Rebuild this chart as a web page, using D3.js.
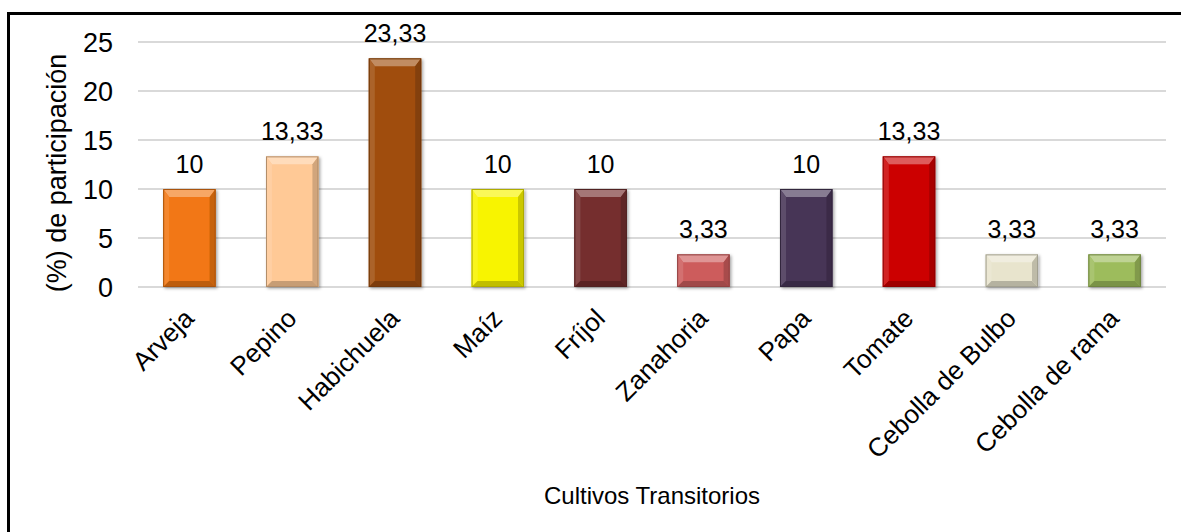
<!DOCTYPE html>
<html>
<head>
<meta charset="utf-8">
<script src="https://cdn.jsdelivr.net/npm/d3@7"></script>
<style>
  html, body { margin: 0; padding: 0; background: #fff; }
  svg { display: block; font-family: "Liberation Sans", Arial, sans-serif; }
</style>
</head>
<body>
<svg id="chart" width="1181" height="532"></svg>
<script>
// Cultivos transitorios: participación porcentual
const categories = ["Arveja", "Pepino", "Habichuela", "Maíz", "Fríjol", "Zanahoria", "Papa", "Tomate", "Cebolla de Bulbo", "Cebolla de rama"];
const values = [10, 13.33, 23.33, 10, 10, 3.33, 10, 13.33, 3.33, 3.33];
const barColors = ["#F27712", "#FFC996", "#A04E0E", "#F8F400", "#742E2E", "#CD5C5C", "#473657", "#CC0404", "#E8E4CD", "#9DBC5B"];
const yTicks = [0, 5, 10, 15, 20, 25];

const fmt = v => String(v).replace(".", ",");

const svg = d3.select("#chart");
const W = 1181, H = 532;
const margin = { left: 138, right: 15, top: 42, bottom: 245 };

const x = d3.scaleBand().domain(categories).range([margin.left, W - margin.right]).paddingInner(0.49).paddingOuter(0.245);
const y = d3.scaleLinear().domain([0, 25]).range([H - margin.bottom, margin.top]);

// drop shadow for the bars
const defs = svg.append("defs");
const f = defs.append("filter").attr("id", "shadow").attr("x", "-20%").attr("y", "-20%").attr("width", "140%").attr("height", "140%");
f.append("feDropShadow").attr("dx", 1.5).attr("dy", 1.5).attr("stdDeviation", 1.5).attr("flood-color", "#000").attr("flood-opacity", 0.35);

// outer frame
svg.append("rect").attr("x", 8.5).attr("y", 13.5).attr("width", W + 20).attr("height", H + 20)
  .attr("fill", "none").attr("stroke", "#000").attr("stroke-width", 3);

// gridlines
svg.append("g").selectAll("line").data(yTicks).join("line")
  .attr("x1", margin.left).attr("x2", W - margin.right)
  .attr("y1", d => y(d)).attr("y2", d => y(d))
  .attr("stroke", "#d9d9d9").attr("stroke-width", 2);

// y axis labels
const yAxis = svg.append("g").attr("transform", `translate(${margin.left - 25},0)`)
  .call(d3.axisLeft(y).tickValues(yTicks).tickSize(0).tickPadding(0));
yAxis.select(".domain").remove();
yAxis.selectAll("text").attr("font-size", 27).attr("fill", "#000")
  .attr("font-family", "'Liberation Sans', Arial, sans-serif").attr("dy", "0.36em");

// y axis title
svg.append("text").attr("transform", "translate(66,173) rotate(-90)")
  .attr("text-anchor", "middle").attr("font-size", 27).attr("fill", "#000")
  .text("(%) de participación");

// bars with bevelled faces
const bars = svg.append("g").selectAll("g").data(categories).join("g")
  .attr("filter", "url(#shadow)");

bars.each(function (c, i) {
  const g = d3.select(this);
  const x0 = x(c), w = x.bandwidth();
  const y0 = y(values[i]), y1 = y(0);
  const h = y1 - y0;
  const b = Math.min(6, h / 2.2);      // bevel depth
  const base = d3.color(barColors[i]);
  const x1 = x0 + w;
  // main face
  g.append("rect").attr("x", x0).attr("y", y0).attr("width", w).attr("height", h).attr("fill", base);
  // top bevel (light)
  g.append("polygon").attr("points", [[x0, y0], [x1, y0], [x1 - b, y0 + b + 2], [x0 + b, y0 + b + 2]].join(" "))
    .attr("fill", d3.interpolateRgb(base, "#fff")(0.35));
  // left bevel
  g.append("polygon").attr("points", [[x0, y0], [x0 + b, y0 + b + 2], [x0 + b, y1 - b], [x0, y1]].join(" "))
    .attr("fill", d3.interpolateRgb(base, "#fff")(0.12));
  // right bevel (dark)
  g.append("polygon").attr("points", [[x1, y0], [x1 - b, y0 + b + 2], [x1 - b, y1 - b], [x1, y1]].join(" "))
    .attr("fill", d3.interpolateRgb(base, "#000")(0.18));
  // bottom bevel (dark)
  g.append("polygon").attr("points", [[x0, y1], [x1, y1], [x1 - b, y1 - b], [x0 + b, y1 - b]].join(" "))
    .attr("fill", d3.interpolateRgb(base, "#000")(0.22));
  // thin outline
  g.append("rect").attr("x", x0 + 0.5).attr("y", y0 + 0.5).attr("width", w - 1).attr("height", h - 1)
    .attr("fill", "none").attr("stroke", d3.interpolateRgb(base, "#000")(0.3)).attr("stroke-width", 1);
});

// value labels
svg.append("g").selectAll("text").data(categories).join("text")
  .attr("x", c => x(c) + x.bandwidth() / 2)
  .attr("y", (c, i) => y(values[i]) - 16)
  .attr("text-anchor", "middle").attr("font-size", 25).attr("fill", "#000")
  .text((c, i) => fmt(values[i]));

// category labels, rotated
svg.append("g").selectAll("text").data(categories).join("text")
  .attr("transform", c => `translate(${x(c) + x.bandwidth() / 2 + 6},${y(0) + 33}) rotate(-45)`)
  .attr("text-anchor", "end").attr("font-size", 26).attr("fill", "#000")
  .text(c => c);

// x axis title
svg.append("text").attr("x", (margin.left + W - margin.right) / 2).attr("y", 504)
  .attr("text-anchor", "middle").attr("font-size", 24).attr("fill", "#000")
  .text("Cultivos Transitorios");
</script>
</body>
</html>
